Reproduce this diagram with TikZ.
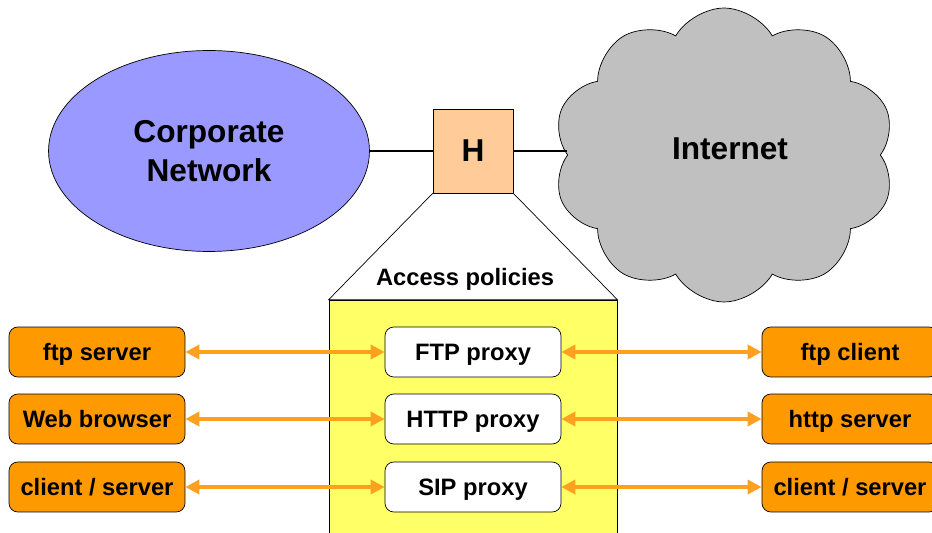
\documentclass[tikz,border=0pt]{standalone}
\usepackage{fontspec}
\setmainfont{Liberation Sans}
\usetikzlibrary{shapes.geometric,shapes.symbols,arrows.meta}

\definecolor{corpblue}{HTML}{9999FF}
\definecolor{hostpeach}{HTML}{FFCC99}
\definecolor{netgrey}{HTML}{C0C0C0}
\definecolor{polyellow}{HTML}{FFFF66}
\definecolor{apporange}{HTML}{FF9900}
\definecolor{linkorange}{HTML}{FFA01E}

\tikzset{
  bigtext/.style={font=\fontsize{18}{22}\selectfont\bfseries},
  smalltext/.style={font=\fontsize{13.5}{16}\selectfont\bfseries},
  app/.style={draw, rounded corners=5pt, fill=apporange, minimum width=3.52cm, minimum height=1cm, text height=12.5pt, text depth=3pt, smalltext},
  proxy/.style={draw, rounded corners=5pt, fill=white, minimum width=3.52cm, minimum height=1cm, text height=12.5pt, text depth=3pt, smalltext}
}

\begin{document}
\begin{tikzpicture}[x=0.02cm, y=-0.02cm]

\useasboundingbox (0,0) rectangle (932,533);
\clip (0,0) rectangle (932,533);

\begin{scope}
	\node[draw, ellipse, fill=corpblue, minimum width=6.42cm, minimum height=4.02cm, inner sep=0pt, align=center, bigtext] (Corp) at (209,151) {Corporate\\Network};
	\node[draw, cloud, cloud puffs=10, cloud puff arc=120, cloud ignores aspect, fill=netgrey, minimum width=6.84cm, minimum height=5.88cm, bigtext] (Inet) at (724,155) {};
	\node[bigtext] (InetText) at (730,149) {Internet};
	\node[draw, fill=hostpeach, minimum width=1.6cm, minimum height=1.68cm, bigtext] (H) at (473,151) {H};

	\node[draw, fill=polyellow, minimum width=5.76cm, minimum height=4.8cm] (Pol) at (473,420) {};
	\node[smalltext] (PolText) at (465,279) {Access policies};

	\node[proxy] (FTP) at (473,352) {FTP proxy};
	\node[proxy] (HTTP) at (473,419) {HTTP proxy};
	\node[proxy] (SIP) at (473,487) {SIP proxy};

	\node[app] (LFTP) at (97,352) {ftp server};
	\node[app] (LWEB) at (97,419) {Web browser};
	\node[app] (LCS) at (97,487) {client / server};

	\node[app] (RFTP) at (850,352) {ftp client};
	\node[app] (RHTTP) at (850,419) {http server};
	\node[app] (RCS) at (850,487) {client / server};
\end{scope}

\draw (H.south west) -- (Pol.north west) -- (Pol.north east) -- (H.south east);

\begin{scope}[every edge/.style={draw=black, line width=1.4pt}]
    \path (Corp) edge (H);
    \path (H) edge (H.east -| Inet.west);
\end{scope}

\begin{scope}[>={Triangle[length=8pt,width=8pt]}, every edge/.style={draw=linkorange, line width=2pt}]
    \path [<->] (LFTP) edge (FTP);
    \path [<->] (LWEB) edge (HTTP);
    \path [<->] (LCS) edge (SIP);

    \path [<->] (FTP) edge (RFTP);
    \path [<->] (HTTP) edge (RHTTP);
    \path [<->] (SIP) edge (RCS);
\end{scope}

\end{tikzpicture}
\end{document}
